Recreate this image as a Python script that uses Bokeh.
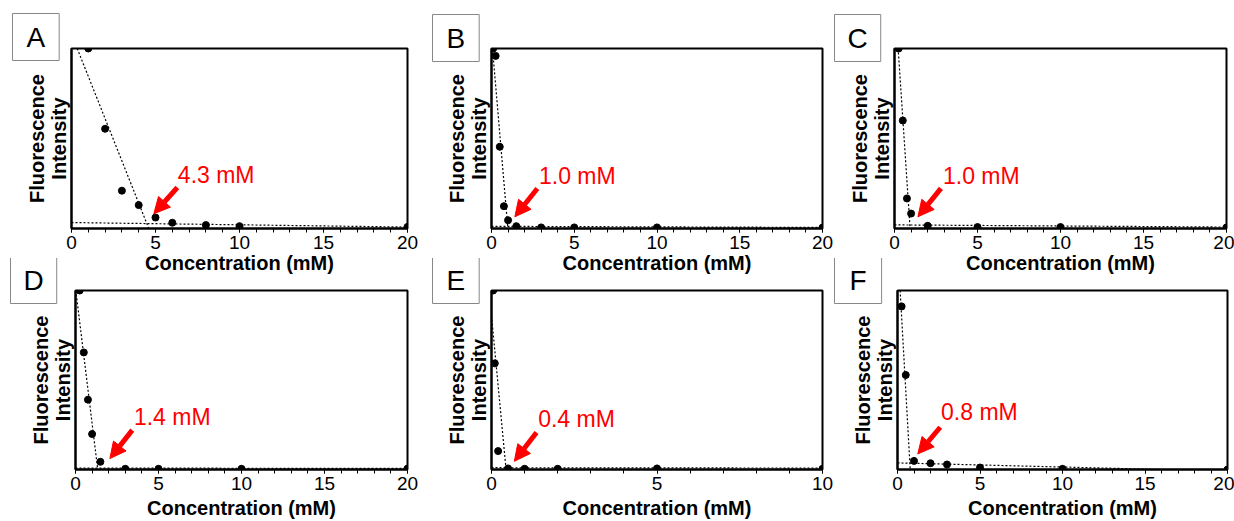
from bokeh.plotting import figure
from bokeh.layouts import column, row
from bokeh.models import Range1d, FixedTicker, Label, Arrow, NormalHead, Title
from bokeh.embed import file_html
from bokeh.resources import INLINE

# ---------------- data ----------------
panel_letters = ["A", "B", "C", "D", "E", "F"]
threshold_labels = ["4.3 mM", "1.0 mM", "1.0 mM", "1.4 mM", "0.4 mM", "0.8 mM"]
x_max = [20, 20, 20, 20, 10, 20]
ticks_20 = [0, 5, 10, 15, 20]
ticks_10 = [0, 5, 10]
x_title = "Concentration (mM)"
y_title = "Fluorescence\nIntensity"

conc_a = [1, 2, 3, 4, 5, 6, 8, 10, 20]
fluor_a = [1.0, 0.554, 0.21, 0.13, 0.061, 0.032, 0.019, 0.013, 0.009]
conc_b = [0.1, 0.25, 0.5, 0.75, 1.0, 1.5, 3, 5, 10, 20]
fluor_b = [1.0, 0.959, 0.454, 0.124, 0.046, 0.013, 0.006, 0.006, 0.006, 0.005]
conc_c = [0.25, 0.5, 0.75, 1.0, 2, 5, 10, 20]
fluor_c = [1.0, 0.6, 0.167, 0.083, 0.015, 0.008, 0.008, 0.006]
conc_d = [0.25, 0.5, 0.75, 1.0, 1.5, 3, 5, 10, 20]
fluor_d = [1.0, 0.654, 0.39, 0.198, 0.043, 0.004, 0.004, 0.004, 0.005]
conc_e = [0.05, 0.1, 0.2, 0.5, 1, 2, 5, 10]
fluor_e = [1.0, 0.593, 0.103, 0.006, 0.004, 0.004, 0.006, 0.004]
conc_f = [0.25, 0.5, 1, 2, 3, 5, 10, 20]
fluor_f = [0.911, 0.528, 0.048, 0.035, 0.028, 0.011, 0.004, 0.0]

# dotted fit lines (steep decline and plateau)
steep_x = [[0.34, 4.6], [0.06, 0.99], [0.22, 0.94], [0.02, 1.34], [0.0, 0.44], [0.16, 0.77]]
steep_y = [[1.0, 0.0], [1.0, 0.0], [1.0, 0.0], [1.0, 0.0], [0.86, 0.0], [1.0, 0.0]]
flat_x = [[0, 20], [0, 20], [0, 20], [0, 20], [0, 10], [0, 16]]
flat_y = [[0.033, 0.008], [0.012, 0.006], [0.02, 0.008], [0.008, 0.006], [0.01, 0.008], [0.037, 0.0]]

concs = [conc_a, conc_b, conc_c, conc_d, conc_e, conc_f]
fluors = [fluor_a, fluor_b, fluor_c, fluor_d, fluor_e, fluor_f]

# ---------------- layout / annotation placement ----------------
# canvas width, border left, border right
col_geo = [
    [(424, 71, 17), (409, 67, 11), (401, 61, 8)],
    [(424, 75, 17), (409, 67, 11), (401, 64, 7)],
]
# height, border top, border bottom, x-title standoff
row_geo = [(278, 48, 50, 0), (263, 32, 52, 4)]
# letter box: horizontal offset from frame left, px below frame top, horizontal padding
box_offset = [-59, -59, -60, -65, -59, -63]
box_drop = [12, 13, 13, 13, 13, 13]
box_hpad = [14, 14, 13, 13, 14, 15]
# arrow tip, arrow tail, text anchor (data units)
arrow_tip = [(4.9, 0.082), (1.41, 0.065), (1.41, 0.065), (2.07, 0.061), (0.69, 0.046), (1.23, 0.087)]
arrow_tail = [(6.3, 0.228), (2.77, 0.222), (2.8, 0.223), (3.42, 0.22), (1.36, 0.207), (2.59, 0.236)]
text_pos = [(6.33, 0.297), (2.87, 0.292), (2.92, 0.294), (3.52, 0.295), (1.41, 0.282), (2.64, 0.319)]

FONT = "Liberation Sans"


def make_panel(i):
    r, c = divmod(i, 3)
    w, bl, br = col_geo[r][c]
    h, bt, bb, xstand = row_geo[r]
    xm = x_max[i]
    p = figure(width=w, height=h, x_range=Range1d(0, xm), y_range=Range1d(0, 1),
               output_backend="svg", toolbar_location=None,
               min_border_left=bl, min_border_right=br,
               min_border_top=bt, min_border_bottom=bb)
    p.border_fill_alpha = 0
    p.background_fill_color = "white"
    p.outline_line_color = "black"
    p.outline_line_width = 2
    p.outline_line_alpha = 1
    p.xgrid.visible = False
    p.ygrid.visible = False

    ticks = ticks_20 if xm == 20 else ticks_10
    xa = p.xaxis[0]
    xa.ticker = FixedTicker(ticks=ticks, minor_ticks=list(range(0, xm + 1)))
    xa.axis_line_width = 2
    xa.axis_line_color = "black"
    xa.major_tick_in = 0
    xa.major_tick_out = 4
    xa.minor_tick_in = 0
    xa.minor_tick_out = 4
    xa.major_tick_line_color = "black"
    xa.minor_tick_line_color = "black"
    xa.major_label_standoff = 3
    xa.major_label_text_font = FONT
    xa.major_label_text_font_size = "19px"
    xa.major_label_text_color = "black"
    xa.axis_label = x_title
    xa.axis_label_text_font = FONT
    xa.axis_label_text_font_style = "bold"
    xa.axis_label_text_font_size = "20px"
    xa.axis_label_text_color = "black"
    xa.axis_label_standoff = xstand

    ya = p.yaxis[0]
    ya.ticker = FixedTicker(ticks=[])
    ya.axis_line_width = 2
    ya.axis_line_color = "black"
    ya.major_tick_line_color = None
    ya.minor_tick_line_color = None
    ya.major_label_standoff = 0
    ya.major_tick_out = 0
    ya.axis_label = y_title
    ya.axis_label_text_font = FONT
    ya.axis_label_text_font_style = "bold"
    ya.axis_label_text_font_size = "20px"
    ya.axis_label_text_color = "black"
    ya.axis_label_text_line_height = 1.0
    ya.axis_label_standoff = 2

    # dotted fit lines
    p.line(steep_x[i], steep_y[i], line_color="black", line_width=1.2, line_dash="2 2")
    p.line(flat_x[i], flat_y[i], line_color="black", line_width=1.2, line_dash="2 2")
    # data points
    p.scatter(concs[i], fluors[i], size=7, fill_color="black", line_color="black")

    # red arrow + threshold text
    tx, ty = arrow_tip[i]
    sx, sy = arrow_tail[i]
    p.add_layout(Arrow(x_start=sx, y_start=sy, x_end=tx, y_end=ty,
                       line_color="#ff0000", line_width=5,
                       end=NormalHead(size=16, fill_color="#ff0000", line_color="#ff0000")))
    lx, ly = text_pos[i]
    p.add_layout(Label(x=lx, y=ly, text=threshold_labels[i], text_color="#ff0000",
                       text_font=FONT, text_font_size="23px",
                       text_align="left", text_baseline="alphabetic"))

    # boxed panel letter (as a title placed above, shifted left of the frame)
    hp = box_hpad[i]
    t = Title(text=panel_letters[i], align="left", vertical_align="bottom",
              offset=box_offset[i], standoff=-2 * box_drop[i],
              text_font=FONT, text_font_size="28px", text_font_style="normal",
              text_color="black",
              border_line_color="#888888", border_line_width=1,
              background_fill_color="white",
              padding=dict(left=hp, right=hp, top=8, bottom=8))
    p.add_layout(t, "above")
    return p


panels = [make_panel(i) for i in range(6)]
row1 = row(panels[0], panels[1], panels[2])
row2 = row(panels[3], panels[4], panels[5], margin=(-20, 0, 0, 0))
layout = column(row1, row2)

open("out.html", "w").write(file_html(layout, INLINE))
